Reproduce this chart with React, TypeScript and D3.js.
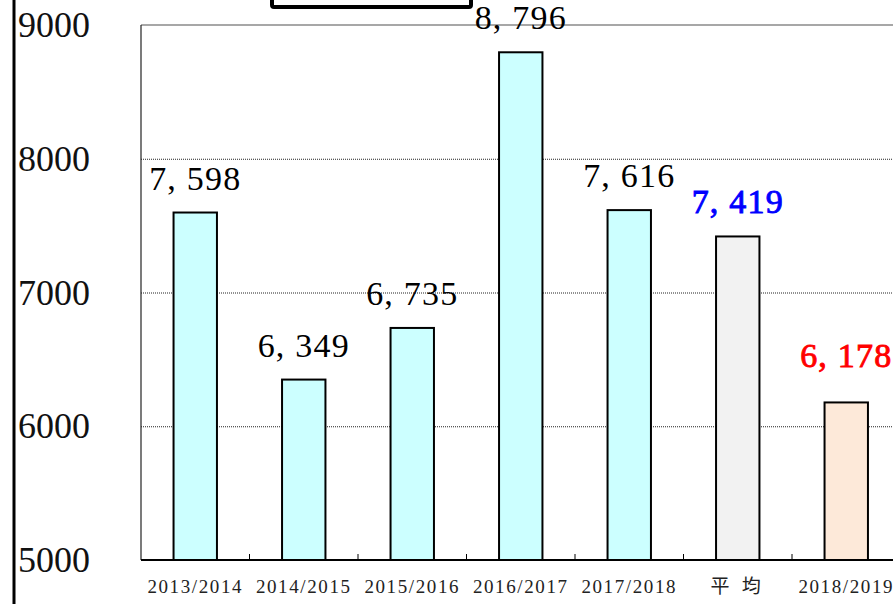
import React, { useEffect, useRef } from "react";
import * as d3 from "d3";

// seasons shown on the x axis, last two are the average and the current season
const categories = ["2013/2014", "2014/2015", "2015/2016", "2016/2017", "2017/2018", "平 均", "2018/2019"];
const values = [7598, 6349, 6735, 8796, 7616, 7419, 6178];
const yTicks = [5000, 6000, 7000, 8000, 9000];

const barFill = ["#CCFFFF", "#CCFFFF", "#CCFFFF", "#CCFFFF", "#CCFFFF", "#F2F2F2", "#FDE9D9"];
const labelColor = ["#000", "#000", "#000", "#000", "#000", "#0000FF", "#FF0000"];

export default function App() {
  const svgRef = useRef<SVGSVGElement>(null);
  const width = 893;
  const height = 604;
  const marginLeft = 141;
  const marginTop = 25;
  const plotBottom = 560;
  const step = 108.5;

  useEffect(() => {
    const svg = d3.select(svgRef.current);
    svg.selectAll("*").remove();

    const x = d3.scaleBand()
      .domain(categories)
      .range([marginLeft, marginLeft + step * categories.length])
      .padding(0);
    const y = d3.scaleLinear().domain([5000, 9000]).range([plotBottom, marginTop]);
    const serif = "'Liberation Serif', 'DejaVu Serif', serif";

    // title box, mostly cut off at the top
    svg.append("rect")
      .attr("x", 272).attr("y", -30).attr("width", 199).attr("height", 37)
      .attr("rx", 2)
      .attr("fill", "white").attr("stroke", "black").attr("stroke-width", 4);

    // thick outer frame line on the left
    svg.append("line")
      .attr("x1", 14).attr("x2", 14).attr("y1", 0).attr("y2", height)
      .attr("stroke", "black").attr("stroke-width", 3);

    // grid lines
    svg.append("g")
      .selectAll("line")
      .data([6000, 7000, 8000])
      .join("line")
      .attr("x1", marginLeft).attr("x2", width)
      .attr("y1", (d) => y(d) + 0.5).attr("y2", (d) => y(d) + 0.5)
      .attr("stroke", "#222").attr("stroke-width", 1)
      .attr("stroke-dasharray", "1,1");

    // top line (9000)
    svg.append("line")
      .attr("x1", marginLeft).attr("x2", width)
      .attr("y1", y(9000)).attr("y2", y(9000))
      .attr("stroke", "#8a8a8a").attr("stroke-width", 1.5);

    // left axis line
    svg.append("line")
      .attr("x1", marginLeft).attr("x2", marginLeft)
      .attr("y1", y(9000)).attr("y2", plotBottom)
      .attr("stroke", "#222").attr("stroke-width", 1.2);

    // y tick labels
    svg.append("g")
      .selectAll("text")
      .data(yTicks)
      .join("text")
      .attr("x", 18)
      .attr("y", (d) => y(d) + 12)
      .attr("font-family", serif)
      .attr("font-size", 36)
      .attr("fill", "#111")
      .text((d) => String(d));

    // bars
    const barW = x.bandwidth() * 0.4;
    svg.append("g")
      .selectAll("rect")
      .data(values)
      .join("rect")
      .attr("x", (d, i) => x(categories[i])! + (x.bandwidth() - barW) / 2)
      .attr("y", (d) => y(d))
      .attr("width", barW)
      .attr("height", (d) => plotBottom - y(d))
      .attr("fill", (d, i) => barFill[i])
      .attr("stroke", "black")
      .attr("stroke-width", 2);

    // bottom axis
    svg.append("line")
      .attr("x1", marginLeft).attr("x2", width)
      .attr("y1", plotBottom).attr("y2", plotBottom)
      .attr("stroke", "black").attr("stroke-width", 2);

    svg.append("g")
      .selectAll("line")
      .data(categories.slice(1))
      .join("line")
      .attr("x1", (d) => x(d)!).attr("x2", (d) => x(d)!)
      .attr("y1", plotBottom - 6).attr("y2", plotBottom)
      .attr("stroke", "black").attr("stroke-width", 1);

    // x labels
    svg.append("g")
      .selectAll("text")
      .data(categories)
      .join("text")
      .attr("x", (d) => x(d)! + x.bandwidth() / 2)
      .attr("y", 593)
      .attr("text-anchor", "middle")
      .attr("font-family", (d) => (d === "平 均" ? "'Noto Sans CJK JP', sans-serif" : serif))
      .attr("font-size", 19)
      .attr("letter-spacing", (d) => (d === "平 均" ? 4 : 1.6))
      .attr("fill", "#222")
      .text((d) => d);

    // value labels
    const fmt = d3.format(",");
    svg.append("g")
      .selectAll("text")
      .data(values)
      .join("text")
      .attr("x", (d, i) => x(categories[i])! + x.bandwidth() / 2)
      .attr("y", (d, i) => y(d) - (i === values.length - 1 ? 35 : 23))
      .attr("text-anchor", "middle")
      .attr("font-family", serif)
      .attr("font-size", 34)
      .attr("letter-spacing", 1.2)
      .attr("fill", (d, i) => labelColor[i])
      .attr("stroke", (d, i) => (i >= 5 ? labelColor[i] : "none"))
      .attr("stroke-width", 0.9)
      .text((d) => fmt(d).replace(",", ", "));
  }, []);

  return (
    <svg
      ref={svgRef}
      width={width}
      height={height}
      style={{ position: "absolute", left: 0, top: 0, background: "white" }}
    />
  );
}
